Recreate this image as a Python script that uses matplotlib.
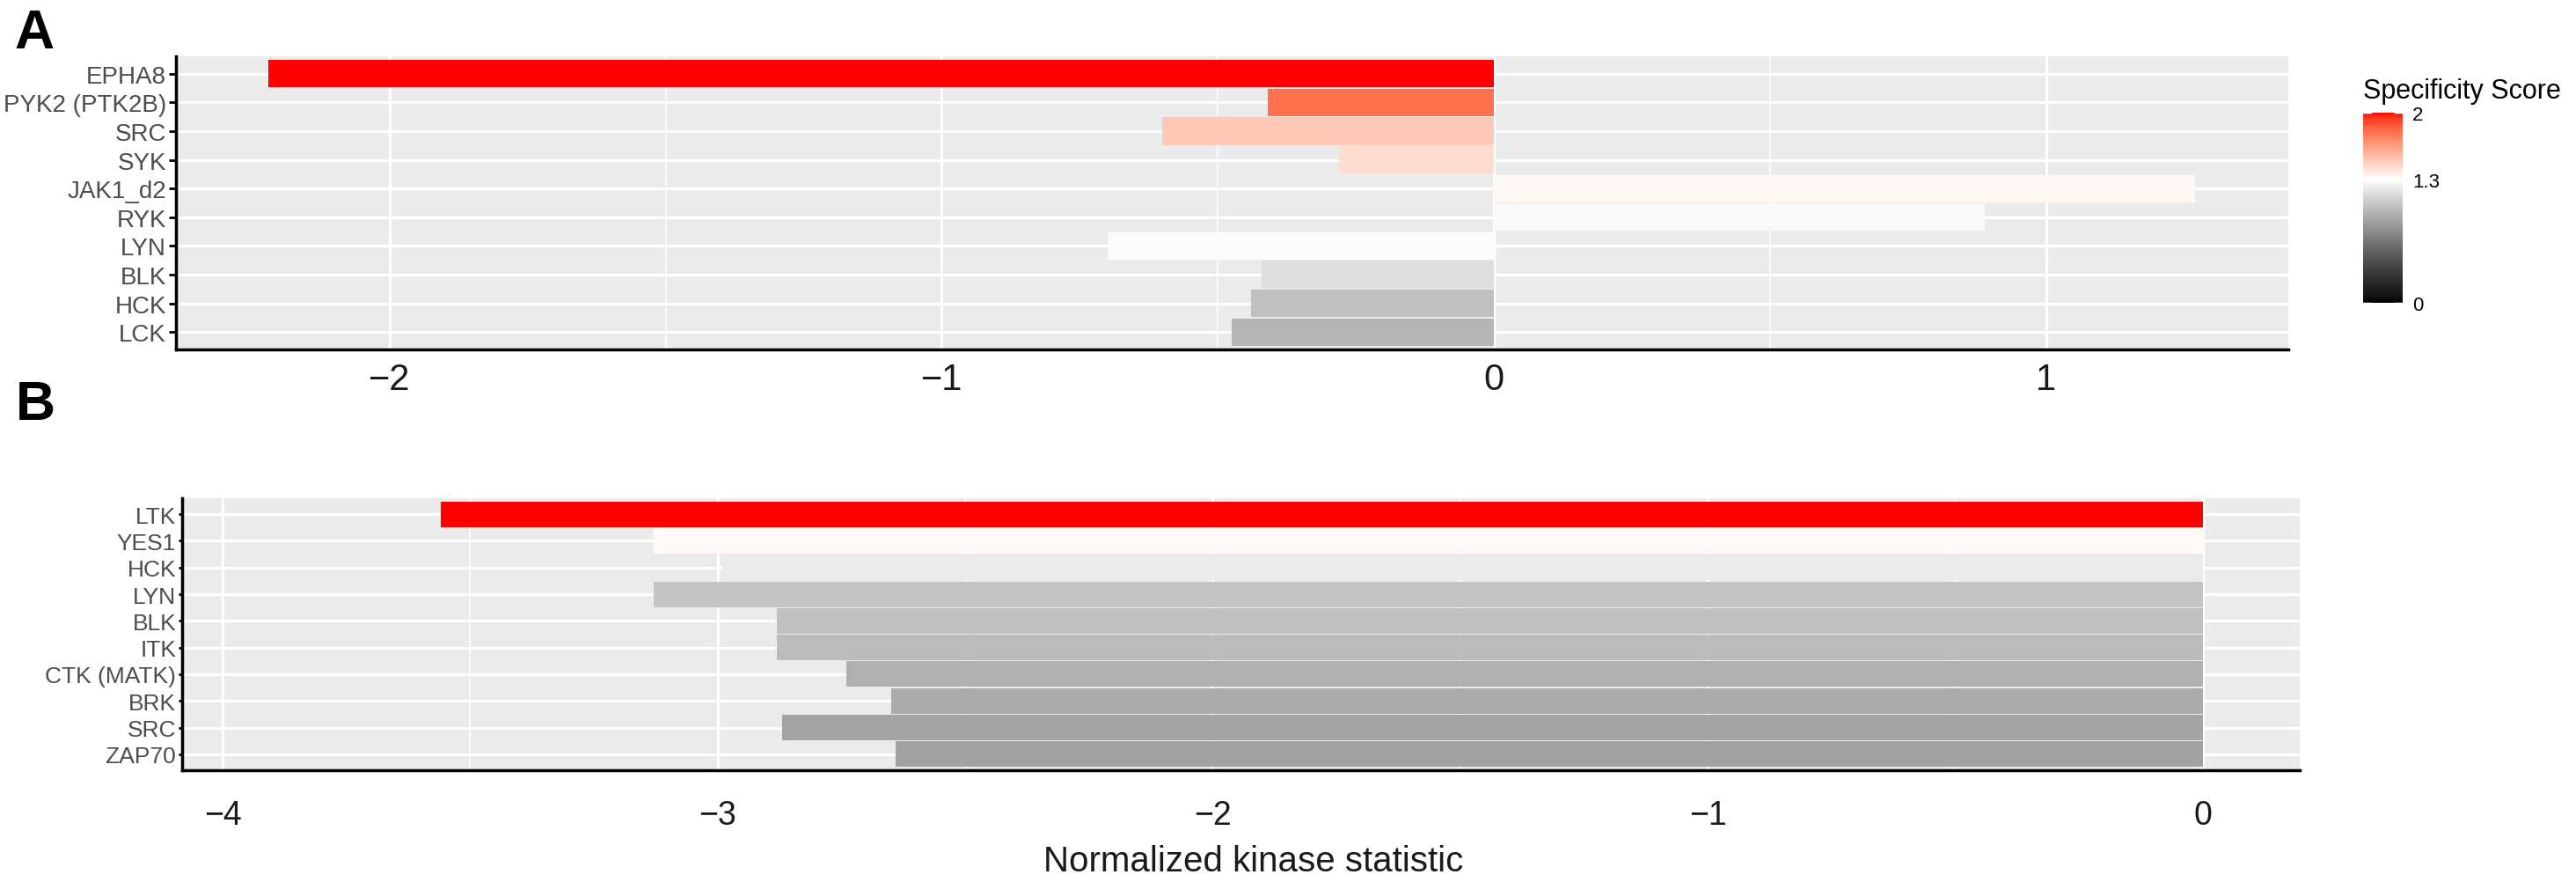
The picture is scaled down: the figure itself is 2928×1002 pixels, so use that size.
import numpy as np
import matplotlib
matplotlib.use('Agg')
import matplotlib.pyplot as plt
from matplotlib.colors import ListedColormap, Normalize
from matplotlib.cm import ScalarMappable
from matplotlib.ticker import MultipleLocator

plt.rcParams['font.family'] = ['Liberation Sans', 'DejaVu Sans']

# panel A data (top to bottom)
kinases_a = ['EPHA8', 'PYK2 (PTK2B)', 'SRC', 'SYK', 'JAK1_d2', 'RYK', 'LYN', 'BLK', 'HCK', 'LCK']
stat_a = [-2.22, -0.41, -0.60, -0.28, 1.27, 0.89, -0.70, -0.42, -0.44, -0.475]
score_a = [2.0, 1.80, 1.50, 1.42, 1.33, 1.27, 1.28, 1.15, 1.01, 0.96]

# panel B data (top to bottom)
kinases_b = ['LTK', 'YES1', 'HCK', 'LYN', 'BLK', 'ITK', 'CTK (MATK)', 'BRK', 'SRC', 'ZAP70']
stat_b = [-3.56, -3.13, -2.99, -3.13, -2.88, -2.88, -2.74, -2.65, -2.87, -2.64]
score_b = [2.0, 1.32, 1.205, 1.03, 1.01, 0.99, 0.935, 0.91, 0.87, 0.86]

cbar_ticks = [0, 1.3, 2]
cbar_labels = ['0', '1.3', '2']

W, H = 2928, 1003


# ggplot-style gradient: interpolate in CIELAB between black, white (at 1.3) and red
def srgb_to_lab(rgb):
    c = np.asarray(rgb, dtype=float)
    lin = np.where(c <= 0.04045, c / 12.92, ((c + 0.055) / 1.055) ** 2.4)
    m = np.array([[0.4124, 0.3576, 0.1805], [0.2126, 0.7152, 0.0722], [0.0193, 0.1192, 0.9505]])
    xyz = m @ lin / np.array([0.95047, 1.0, 1.08883])
    f = np.where(xyz > 0.008856, np.cbrt(xyz), 7.787 * xyz + 16 / 116)
    return np.array([116 * f[1] - 16, 500 * (f[0] - f[1]), 200 * (f[1] - f[2])])


def lab_to_srgb(lab):
    L, a, b = lab
    fy = (L + 16) / 116
    fx = fy + a / 500
    fz = fy - b / 200
    f = np.array([fx, fy, fz])
    xyz = np.where(f ** 3 > 0.008856, f ** 3, (f - 16 / 116) / 7.787) * np.array([0.95047, 1.0, 1.08883])
    m = np.array([[3.2406, -1.5372, -0.4986], [-0.9689, 1.8758, 0.0415], [0.0557, -0.2040, 1.0570]])
    lin = np.clip(m @ xyz, 0, 1)
    c = np.where(lin <= 0.0031308, 12.92 * lin, 1.055 * lin ** (1 / 2.4) - 0.055)
    return np.clip(c, 0, 1)


lab_black = srgb_to_lab([0, 0, 0])
lab_white = srgb_to_lab([1, 1, 1])
lab_red = srgb_to_lab([1, 0, 0])
mid = 1.3 / 2.0
cols = []
for v in np.linspace(0, 1, 512):
    if v <= mid:
        t = v / mid
        lab = lab_black + (lab_white - lab_black) * t
    else:
        t = (v - mid) / (1 - mid)
        lab = lab_white + (lab_red - lab_white) * t
    cols.append(lab_to_srgb(lab))
cmap = ListedColormap(cols)
norm = Normalize(vmin=0, vmax=2)

fig = plt.figure(figsize=(W / 100, H / 100), dpi=100)


def px_axes(left, top, right, bottom):
    return fig.add_axes([left / W, 1 - bottom / H, (right - left) / W, (bottom - top) / H])


def draw_panel(ax, names, stats, scores, xlim, xticks, ysize, xsize, xpad, ytick_len):
    y = np.arange(len(names))
    ax.set_facecolor('#EBEBEB')
    ax.set_axisbelow(True)
    ax.barh(y, stats, height=0.96, color=cmap(norm(np.array(scores))), zorder=2)
    ax.set_xlim(*xlim)
    ax.set_ylim(len(names) - 0.4, -0.6)
    ax.set_xticks(xticks)
    ax.xaxis.set_minor_locator(MultipleLocator(0.5))
    ax.set_yticks(y)
    ax.set_yticklabels(names)
    ax.grid(True, which='major', color='white', linewidth=2.2)
    ax.grid(True, which='minor', axis='x', color='white', linewidth=1.1)
    for s in ['top', 'right']:
        ax.spines[s].set_visible(False)
    for s in ['left', 'bottom']:
        ax.spines[s].set_linewidth(2.5)
        ax.spines[s].set_color('black')
    ax.tick_params(axis='y', which='major', labelsize=ysize, labelcolor='#4D4D4D',
                   length=ytick_len, width=2, color='black', pad=2)
    ax.tick_params(axis='x', which='major', labelsize=xsize, labelcolor='#1A1A1A',
                   length=0, pad=xpad)
    ax.tick_params(which='minor', length=0)


ax_a = px_axes(200, 65, 2601, 398)
draw_panel(ax_a, kinases_a, stat_a, score_a, (-2.387, 1.439), [-2, -1, 0, 1],
           20, 30, 10, 6)

ax_b = px_axes(207, 567, 2614, 876)
draw_panel(ax_b, kinases_b, stat_b, score_b, (-4.082, 0.196), [-4, -3, -2, -1, 0],
           19, 27, 24, 3)

# panel letters
fig.text(16 / W, 1 - 55 / H, 'A', fontsize=45, fontweight='bold', va='baseline', ha='left')
fig.text(18 / W, 1 - 477 / H, 'B', fontsize=45, fontweight='bold', va='baseline', ha='left')

fig.text(1425 / W, 1 - 990 / H, 'Normalized kinase statistic', fontsize=29,
         va='baseline', ha='center', color='#1A1A1A')

# colour bar legend
cax = px_axes(2686, 129, 2731, 345)
cb = fig.colorbar(ScalarMappable(norm=norm, cmap=cmap), cax=cax)
cb.outline.set_visible(False)
cb.set_ticks(cbar_ticks)
cb.set_ticklabels(cbar_labels)
cax.tick_params(length=0, labelsize=16, pad=8)
for v in cbar_ticks:
    cax.plot([0, 0.2], [v, v], color='white', linewidth=1)
    cax.plot([0.8, 1], [v, v], color='white', linewidth=1)
fig.text(2686 / W, 1 - 112 / H, 'Specificity Score', fontsize=22, va='baseline', ha='left')

fig.savefig('out.png', dpi=100)
